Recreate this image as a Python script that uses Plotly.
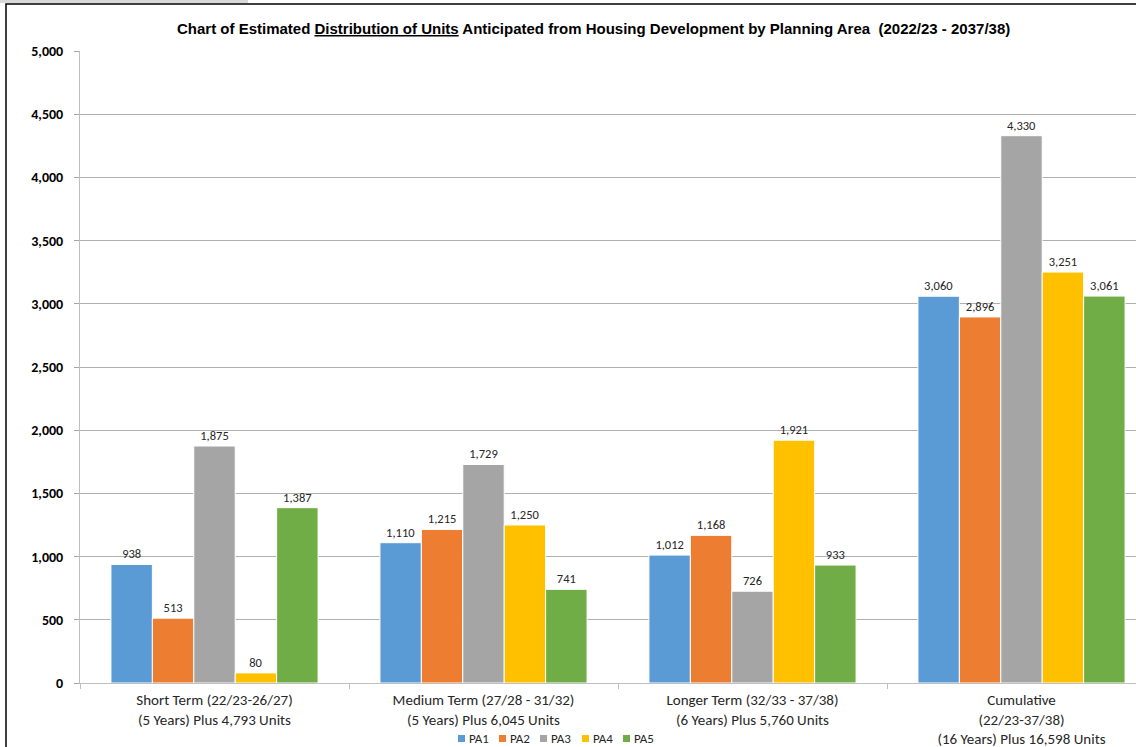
import plotly.graph_objects as go

categories = [
    "Short Term (22/23-26/27)<br>(5 Years) Plus 4,793 Units",
    "Medium Term (27/28 - 31/32)<br>(5 Years) Plus 6,045 Units",
    "Longer Term (32/33 - 37/38)<br>(6 Years) Plus 5,760 Units",
    "Cumulative<br>(22/23-37/38)<br>(16 Years) Plus 16,598 Units",
]
series_names = ["PA1", "PA2", "PA3", "PA4", "PA5"]
pa1 = [938, 1110, 1012, 3060]
pa2 = [513, 1215, 1168, 2896]
pa3 = [1875, 1729, 726, 4330]
pa4 = [80, 1250, 1921, 3251]
pa5 = [1387, 741, 933, 3061]
series_values = [pa1, pa2, pa3, pa4, pa5]
colors = ["#5B9BD5", "#ED7D31", "#A5A5A5", "#FFC000", "#70AD47"]
y_ticks = [0, 500, 1000, 1500, 2000, 2500, 3000, 3500, 4000, 4500, 5000]

W, H = 1136, 747
L, R, T, B = 80, 0, 51, 64
pw, ph = W - L - R, H - T - B
FONT = "Calibri, Carlito, Lato, sans-serif"

def px_x(x):
    return (x - L) / pw

def px_y(y):
    return (H - B - y) / ph

fig = go.Figure()
for name, vals, col in zip(series_names, series_values, colors):
    fig.add_trace(go.Bar(
        name=name, x=categories, y=vals,
        marker=dict(color=col, line=dict(color="white", width=1)),
        text=[f"{v:,}" for v in vals], textposition="outside",
        textfont=dict(family=FONT, size=12.5, color="#262626"),
        cliponaxis=False, showlegend=False,
    ))

fig.update_layout(
    width=W, height=H,
    margin=dict(l=L, r=R, t=T, b=B, pad=0),
    paper_bgcolor="white", plot_bgcolor="white",
    barmode="group", bargap=0.23, bargroupgap=0,
    showlegend=False,
    font=dict(family=FONT, color="#262626"),
)
fig.update_xaxes(
    type="category", range=[-0.5, -0.5 + pw / 269.0],
    tickson="boundaries", ticks="outside", ticklen=5, tickcolor="#bfbfbf",
    showline=True, linecolor="#bfbfbf", linewidth=1, showgrid=False,
    tickfont=dict(family=FONT, size=15, color="#262626"),
    ticklabelstandoff=3,
)
fig.update_yaxes(
    range=[0, 5000], tickvals=y_ticks, ticktext=[f"{v:,}" for v in y_ticks],
    ticks="outside", ticklen=5, tickcolor="#a6a6a6",
    showline=True, linecolor="#bfbfbf", linewidth=1,
    showgrid=True, gridcolor="#b0b0b0", gridwidth=1, zeroline=False,
    tickfont=dict(family=FONT, size=14, color="#000000", weight="bold"),
    ticklabelstandoff=8,
)

# legend drawn manually (compact Excel-style)
leg_x = [458, 499, 540, 582, 623]
for name, col, lx in zip(series_names, colors, leg_x):
    fig.add_shape(type="rect", xref="paper", yref="paper",
                  x0=px_x(lx), x1=px_x(lx + 7), y0=px_y(742), y1=px_y(735),
                  line=dict(width=0), fillcolor=col)
    fig.add_annotation(x=px_x(lx + 9), y=px_y(738.5), xref="paper", yref="paper",
                       showarrow=False, xanchor="left", yanchor="middle",
                       text=name, font=dict(family=FONT, size=13, color="#262626"))

fig.add_annotation(
    x=px_x(593), y=px_y(28), xref="paper", yref="paper", showarrow=False,
    xanchor="center", yanchor="middle",
    text="<b>Chart of Estimated <span style='text-decoration:underline'>Distribution of Units</span> Anticipated from Housing Development by Planning Area  (2022/23 - 2037/38)</b>",
    font=dict(family="Liberation Sans, Arial", size=15, color="#000000"),
)
# outer chart border
fig.add_shape(type="rect", xref="paper", yref="paper",
              x0=px_x(6), x1=px_x(1180), y0=px_y(4), y1=px_y(780),
              line=dict(color="#000000", width=1.5), fillcolor="rgba(0,0,0,0)", layer="above")
# gray strip at top-left
fig.add_shape(type="rect", xref="paper", yref="paper",
              x0=px_x(0), x1=px_x(248), y0=px_y(0), y1=px_y(3),
              line=dict(width=0), fillcolor="#d9d9d9", layer="above")

fig.write_html("out.html", config={"displayModeBar": False},
               post_script="document.body.style.margin='0px';document.body.style.overflow='hidden';")
